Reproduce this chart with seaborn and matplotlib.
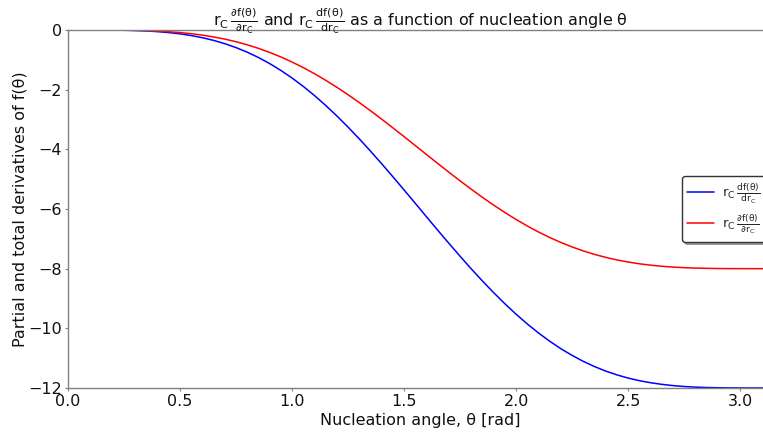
import numpy as np
import pandas as pd
import matplotlib
matplotlib.use("Agg")
import matplotlib.pyplot as plt
import seaborn as sns

theta = [0.00, 0.05, 0.10, 0.15, 0.20, 0.25, 0.30, 0.35, 0.40, 0.45, 0.50, 0.55, 0.60, 0.65,
         0.70, 0.75, 0.80, 0.85, 0.90, 0.95, 1.00, 1.05, 1.10, 1.15, 1.20, 1.25, 1.30, 1.35,
         1.40, 1.45, 1.50, 1.55, 1.60, 1.65, 1.70, 1.75, 1.80, 1.85, 1.90, 1.95, 2.00, 2.05,
         2.10, 2.15, 2.20, 2.25, 2.30, 2.35, 2.40, 2.45, 2.50, 2.55, 2.60, 2.65, 2.70, 2.75,
         2.80, 2.85, 2.90, 2.95, 3.00, 3.05, 3.10, 3.1416]
total_deriv = [0.0, -0.00001, -0.0002, -0.0011, -0.0036, -0.0087, -0.018, -0.033, -0.055,
               -0.087, -0.129, -0.186, -0.259, -0.349, -0.459, -0.590, -0.744, -0.922, -1.126,
               -1.356, -1.610, -1.891, -2.198, -2.529, -2.882, -3.257, -3.650, -4.061, -4.485,
               -4.921, -5.364, -5.813, -6.263, -6.711, -7.153, -7.587, -8.010, -8.418, -8.808,
               -9.179, -9.529, -9.856, -10.158, -10.435, -10.685, -10.909, -11.109, -11.283,
               -11.434, -11.561, -11.668, -11.755, -11.824, -11.878, -11.920, -11.950, -11.971,
               -11.984, -11.992, -11.997, -11.999, -12.000, -12.000, -12.000]
partial_deriv = [0.0, -0.00001, -0.0001, -0.0007, -0.0024, -0.0058, -0.012, -0.022, -0.036,
                 -0.058, -0.086, -0.124, -0.172, -0.233, -0.306, -0.393, -0.496, -0.615,
                 -0.751, -0.904, -1.074, -1.261, -1.465, -1.686, -1.921, -2.171, -2.433,
                 -2.707, -2.990, -3.281, -3.576, -3.875, -4.175, -4.474, -4.769, -5.058,
                 -5.340, -5.612, -5.872, -6.119, -6.353, -6.571, -6.772, -6.957, -7.123,
                 -7.273, -7.406, -7.522, -7.622, -7.707, -7.778, -7.837, -7.883, -7.919,
                 -7.947, -7.967, -7.980, -7.989, -7.995, -7.998, -7.999, -8.000, -8.000, -8.000]
lab_total = r"$\mathregular{r_C\,\frac{df(\theta)}{dr_C}}$"
lab_partial = r"$\mathregular{r_C\,\frac{\partial f(\theta)}{\partial r_C}}$"
xticks = [0.0, 0.5, 1.0, 1.5, 2.0, 2.5, 3.0]
yticks = [0, -2, -4, -6, -8, -10, -12]

sns.set_style("white")
plt.rcParams['font.family'] = ['DejaVu Sans']
plt.rcParams['mathtext.fontset'] = 'dejavusans'
plt.rcParams['mathtext.default'] = 'regular'

df = pd.DataFrame({
    "theta": theta * 2,
    "value": total_deriv + partial_deriv,
    "series": [lab_total] * len(theta) + [lab_partial] * len(theta),
})

fig = plt.figure(figsize=(7.63, 4.36), dpi=100)
ax = fig.add_axes([68 / 763, 48 / 436, 704 / 763, 358 / 436])
sns.lineplot(data=df, x="theta", y="value", hue="series",
             palette={lab_total: "#0000ff", lab_partial: "#ff0000"},
             linewidth=1.1, ax=ax)

ax.set_xlim(0, np.pi)
ax.set_ylim(-12, 0)
ax.set_xticks(xticks)
ax.set_yticks(yticks)
ax.tick_params(axis='both', labelsize=11.5, length=2.5, width=0.8, color='#808080',
               labelcolor='#111111', bottom=True, left=True, pad=2)
for s in ax.spines.values():
    s.set_color('#808080')
    s.set_linewidth(1.0)
ax.set_xlabel("Nucleation angle, θ [rad]", fontsize=11.5, color='#111111', labelpad=3)
ax.set_ylabel("Partial and total derivatives of f(θ)", fontsize=11.5, color='#111111',
              labelpad=0)
ax.set_title(lab_partial + " and " + lab_total + " as a function of nucleation angle θ",
             fontsize=11.5, pad=3, color='#111111')
leg = ax.legend(loc='center right', fontsize=9.5, frameon=True, shadow=True,
                borderpad=0.4, handlelength=2.0, handletextpad=0.6, labelspacing=0.5)
leg.get_frame().set_edgecolor('#333333')
fig.savefig("out.png", dpi=100)
